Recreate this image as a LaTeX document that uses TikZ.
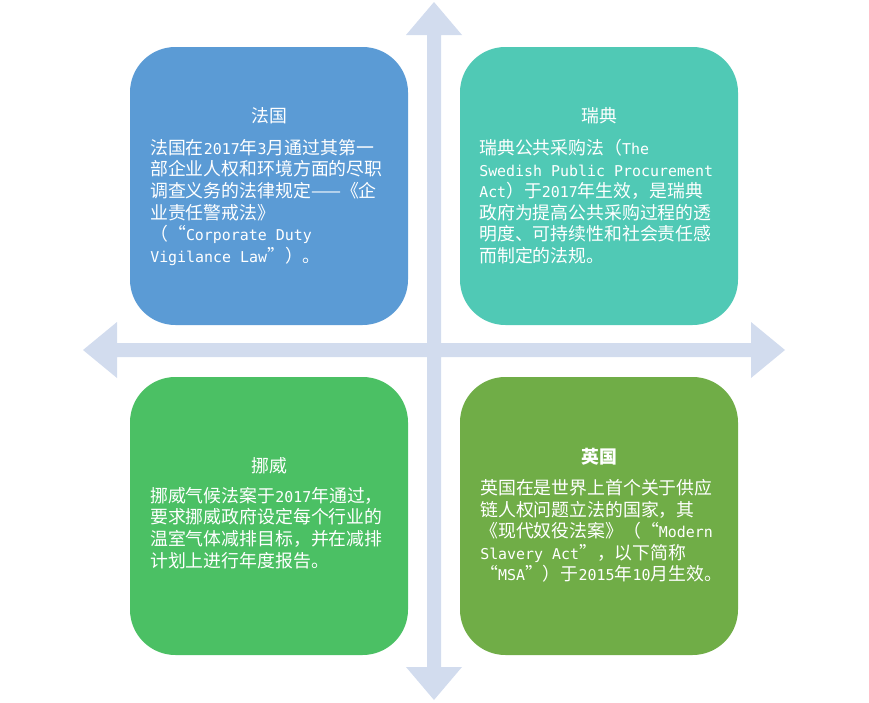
\documentclass[tikz,border=0pt]{standalone}
\usepackage{fontspec}
\setmainfont{Noto Sans CJK SC}
\newfontfamily\latmono{DejaVu Sans Mono}
\newcommand\en[1]{{\latmono\fontsize{11.2}{16.2}\selectfont #1}}

\definecolor{frblue}{HTML}{5B9BD5}
\definecolor{seteal}{HTML}{50C9B5}
\definecolor{nogreen}{HTML}{4BC064}
\definecolor{ukgreen}{HTML}{70AD47}
\definecolor{crossgray}{HTML}{D2DCEE}

\begin{document}
\begin{tikzpicture}[x=0.75pt, y=-0.75pt,
    quad/.style={rounded corners=34pt, minimum width=208.5pt, minimum height=208.5pt, inner sep=0pt},
    title/.style={text=white, inner sep=0pt, font=\fontsize{13.4}{16.2}\selectfont},
    body/.style={text=white, align=left, anchor=north west, inner sep=0pt, font=\fontsize{13.4}{16.2}\selectfont}]
    \useasboundingbox (0,0) rectangle (869,703);

    % the cross with four arrow heads
    \fill[crossgray] (434,2) -- (462,35) -- (441,35) -- (441,343) -- (751,343) -- (751,322)
        -- (785,350) -- (751,378) -- (751,357) -- (441,357) -- (441,667) -- (462,667)
        -- (434,700) -- (406,667) -- (427,667) -- (427,357) -- (117,357) -- (117,378)
        -- (83,350) -- (117,322) -- (117,343) -- (427,343) -- (427,35) -- (406,35) -- cycle;

    % four boxes
    \node[quad, fill=frblue] (france) at (269,186) {};
    \node[quad, fill=seteal] (sweden) at (599,186) {};
    \node[quad, fill=nogreen] (norway) at (269,516) {};
    \node[quad, fill=ukgreen] (uk) at (599,516) {};

    \node[title] (franceT) at (269,116) {法国};
    \node[body] (franceB) at (150,139) {法国在\en{2017}年\en{3}月通过其第一\\
        部企业人权和环境方面的尽职\\
        调查义务的法律规定——《企\\
        业责任警戒法》\\
        （“\en{Corporate Duty}\\
        \en{Vigilance Law}”）。};

    \node[title] (swedenT) at (599,116) {瑞典};
    \node[body] (swedenB) at (479,139) {瑞典公共采购法（\en{The}\\
        \en{Swedish Public Procurement}\\
        \en{Act}）于\en{2017}年生效，是瑞典\\
        政府为提高公共采购过程的透\\
        明度、可持续性和社会责任感\\
        而制定的法规。};

    \node[title] (norwayT) at (269,466) {挪威};
    \node[body] (norwayB) at (150,487) {挪威气候法案于\en{2017}年通过，\\
        要求挪威政府设定每个行业的\\
        温室气体减排目标，并在减排\\
        计划上进行年度报告。};

    \node[title, font=\fontsize{13.4}{16.2}\selectfont\bfseries] (ukT) at (599,457) {英国};
    \node[body] (ukB) at (480,479) {英国在是世界上首个关于供应\\
        链人权问题立法的国家，其\\
        《现代奴役法案》（“\en{Modern}\\
        \en{Slavery Act}”，以下简称\\
        “\en{MSA}”）于\en{2015}年\en{10}月生效。};
\end{tikzpicture}
\end{document}
